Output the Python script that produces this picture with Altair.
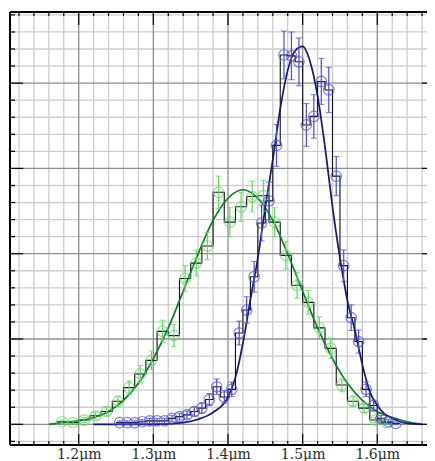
import altair as alt
import pandas as pd

# ---------------- data ----------------
# green series (bin width 0.015 um)
green_x = [1.1775, 1.1925, 1.2075, 1.2225, 1.2375, 1.2525, 1.2675, 1.2825, 1.2975, 1.3125,
           1.3275, 1.3425, 1.3575, 1.3725, 1.3875, 1.4025, 1.4175, 1.4325, 1.4475, 1.4625,
           1.4775, 1.4925, 1.5075, 1.5225, 1.5375, 1.5525, 1.5675, 1.5825, 1.5975, 1.6125]
green_y = [0.03, 0.02, 0.05, 0.10, 0.15, 0.27, 0.43, 0.59, 0.75, 1.09,
           1.04, 1.71, 1.89, 2.09, 2.72, 2.37, 2.55, 2.67, 2.68, 2.37,
           1.98, 1.63, 1.43, 1.13, 0.89, 0.46, 0.27, 0.19, 0.05, 0.02]
green_err = [0.02, 0.02, 0.03, 0.04, 0.05, 0.06, 0.08, 0.10, 0.11, 0.13,
             0.13, 0.15, 0.15, 0.16, 0.19, 0.17, 0.17, 0.18, 0.18, 0.17,
             0.16, 0.15, 0.14, 0.13, 0.12, 0.08, 0.06, 0.05, 0.03, 0.02]

# blue series (bin width 0.01 um)
blue_x = [1.255, 1.265, 1.275, 1.285, 1.295, 1.305, 1.315, 1.325, 1.335, 1.345,
          1.355, 1.365, 1.375, 1.385, 1.395, 1.405, 1.415, 1.425, 1.435, 1.445,
          1.455, 1.465, 1.475, 1.485, 1.495, 1.505, 1.515, 1.525, 1.535, 1.545,
          1.555, 1.565, 1.575, 1.585, 1.595, 1.605, 1.615, 1.625]
blue_y = [0.02, 0.02, 0.02, 0.03, 0.04, 0.04, 0.04, 0.07, 0.09, 0.11,
          0.15, 0.19, 0.29, 0.44, 0.32, 0.41, 1.07, 1.34, 1.73, 2.36,
          2.62, 3.27, 4.33, 4.32, 4.25, 3.51, 3.61, 4.02, 3.92, 2.91,
          1.86, 1.25, 0.97, 0.41, 0.22, 0.07, 0.03, 0.01]
blue_err = [0.02, 0.02, 0.02, 0.025, 0.03, 0.03, 0.03, 0.035, 0.04, 0.045,
            0.05, 0.06, 0.07, 0.09, 0.075, 0.085, 0.14, 0.155, 0.18, 0.21,
            0.22, 0.245, 0.28, 0.28, 0.28, 0.25, 0.255, 0.27, 0.265, 0.23,
            0.185, 0.15, 0.135, 0.085, 0.065, 0.035, 0.025, 0.015]

# fitted curves
green_curve_x = [1.16, 1.18, 1.20, 1.22, 1.24, 1.26, 1.28, 1.30, 1.32, 1.34, 1.36, 1.38, 1.40,
                 1.42, 1.44, 1.46, 1.48, 1.50, 1.52, 1.54, 1.56, 1.58, 1.60, 1.62, 1.64, 1.66]
green_curve_y = [0.0, 0.02, 0.04, 0.08, 0.15, 0.28, 0.48, 0.77, 1.13, 1.56, 2.00, 2.39, 2.65,
                 2.75, 2.65, 2.39, 2.00, 1.56, 1.13, 0.77, 0.48, 0.28, 0.15, 0.08, 0.03, 0.0]
blue_curve_x = [1.22, 1.30, 1.34, 1.36, 1.38, 1.40, 1.41, 1.42, 1.43, 1.44, 1.45, 1.46, 1.47,
                1.48, 1.49, 1.50, 1.51, 1.52, 1.53, 1.54, 1.55, 1.56, 1.57, 1.58, 1.59, 1.60,
                1.61, 1.62, 1.63, 1.64, 1.66]
blue_curve_y = [0.0, 0.0, 0.02, 0.06, 0.14, 0.32, 0.55, 0.95, 1.46, 1.95, 2.55, 3.10, 3.70,
                4.15, 4.38, 4.43, 4.25, 3.85, 3.25, 2.55, 1.95, 1.45, 1.10, 0.70, 0.38, 0.22,
                0.12, 0.07, 0.03, 0.01, 0.0]

# axis ticks / grid positions
x_major = [1.2, 1.3, 1.4, 1.5, 1.6]
x_minor = [1.12, 1.14, 1.16, 1.18, 1.22, 1.24, 1.26, 1.28, 1.32, 1.34, 1.36, 1.38,
           1.42, 1.44, 1.46, 1.48, 1.52, 1.54, 1.56, 1.58, 1.62, 1.64, 1.66]
y_major = [0, 1, 2, 3, 4]
y_minor = [-0.2, 0.2, 0.4, 0.6, 0.8, 1.2, 1.4, 1.6, 1.8, 2.2, 2.4, 2.6, 2.8,
           3.2, 3.4, 3.6, 3.8, 4.2, 4.4, 4.6, 4.8]

# ---------------- chart ----------------
W, H = 417, 433
xs = alt.Scale(domain=[1.10797, 1.66659], nice=False, zero=False)
ys = alt.Scale(domain=[-0.2427, 4.834], nice=False, zero=False)
xaxis = alt.Axis(values=x_major, labelExpr="format(datum.value, '.1f') + 'μm'",
                 ticks=False, grid=False, domain=False, labelFont="DejaVu Serif",
                 labelFontSize=14, labelColor="#2a2a2a", labelPadding=2, title=None,
                 labelFlush=False)


def X(f):
    return alt.X(f, type="quantitative", scale=xs, axis=xaxis)


def Y(f):
    return alt.Y(f, type="quantitative", scale=ys, axis=None)


dxmaj = pd.DataFrame({"x": x_major})
dxmin = pd.DataFrame({"x": x_minor})
dymaj = pd.DataFrame({"y": y_major})
dymin = pd.DataFrame({"y": y_minor})

layers = []
# grid
layers.append(alt.Chart(dxmin).mark_rule(color="#cdcdcd", strokeWidth=1.3).encode(x=X("x")))
layers.append(alt.Chart(dymin).mark_rule(color="#cdcdcd", strokeWidth=1.3).encode(y=Y("y")))
layers.append(alt.Chart(dxmaj).mark_rule(color="#8c8c8c", strokeWidth=1.3).encode(x=X("x")))
layers.append(alt.Chart(dymaj).mark_rule(color="#8c8c8c", strokeWidth=1.3).encode(y=Y("y")))


def step_frame(xc, yv, w):
    ex = [c - w / 2 for c in xc] + [xc[-1] + w / 2]
    ey = list(yv) + [yv[-1]]
    return pd.DataFrame({"x": ex, "y": ey})


# step histograms
for xc, yv, w in [(green_x, green_y, 0.015), (blue_x, blue_y, 0.01)]:
    layers.append(alt.Chart(step_frame(xc, yv, w)).mark_line(
        interpolate="step-after", color="#111111", strokeWidth=1.1).encode(x=X("x"), y=Y("y")))

# fitted curves
layers.append(alt.Chart(pd.DataFrame({"x": green_curve_x, "y": green_curve_y})).mark_line(
    interpolate="monotone", color="#0d7a26", strokeWidth=1.7).encode(x=X("x"), y=Y("y")))
layers.append(alt.Chart(pd.DataFrame({"x": blue_curve_x, "y": blue_curve_y})).mark_line(
    interpolate="monotone", color="#15156e", strokeWidth=1.7).encode(x=X("x"), y=Y("y")))

# error bars and points
for xc, yv, ev, col in [(green_x, green_y, green_err, "#5fd85f"),
                        (blue_x, blue_y, blue_err, "#4a4ad2")]:
    d = pd.DataFrame({"x": xc, "y": yv, "e": ev})
    d["lo"] = d["y"] - d["e"]
    d["hi"] = d["y"] + d["e"]
    layers.append(alt.Chart(d).mark_rule(color=col, strokeWidth=1.2).encode(
        x=X("x"), y=Y("lo"), y2="hi"))
    layers.append(alt.Chart(d).mark_tick(orient="horizontal", size=6, thickness=1.1, color=col).encode(
        x=X("x"), y=Y("lo")))
    layers.append(alt.Chart(d).mark_tick(orient="horizontal", size=6, thickness=1.1, color=col).encode(
        x=X("x"), y=Y("hi")))
    layers.append(alt.Chart(d).mark_point(shape="circle", filled=False, size=110,
                                          strokeWidth=1.2, color=col).encode(x=X("x"), y=Y("y")))

# frame (top, left, bottom) and inward ticks
tk = dict(color="#000000", strokeWidth=1.2)
fr = dict(color="#000000", strokeWidth=1.5)
layers.append(alt.Chart(dxmaj).mark_rule(**fr).encode(x=alt.value(0), x2=alt.value(W), y=alt.value(0)))
layers.append(alt.Chart(dxmaj).mark_rule(**fr).encode(x=alt.value(0), x2=alt.value(W), y=alt.value(H)))
layers.append(alt.Chart(dxmaj).mark_rule(**fr).encode(x=alt.value(0), y=alt.value(0), y2=alt.value(H)))
layers.append(alt.Chart(dxmin).mark_rule(**tk).encode(x=X("x"), y=alt.value(0), y2=alt.value(4)))
layers.append(alt.Chart(dxmaj).mark_rule(**tk).encode(x=X("x"), y=alt.value(0), y2=alt.value(13)))
layers.append(alt.Chart(dxmin).mark_rule(**tk).encode(x=X("x"), y=alt.value(H), y2=alt.value(H - 4)))
layers.append(alt.Chart(dxmaj).mark_rule(**tk).encode(x=X("x"), y=alt.value(H), y2=alt.value(H - 11)))
layers.append(alt.Chart(dymin).mark_rule(**tk).encode(y=Y("y"), x=alt.value(0), x2=alt.value(5)))
layers.append(alt.Chart(dymaj).mark_rule(**tk).encode(y=Y("y"), x=alt.value(0), x2=alt.value(13)))
layers.append(alt.Chart(dymaj).mark_rule(**tk).encode(y=Y("y"), x=alt.value(W), x2=alt.value(W - 5)))

chart = alt.layer(*layers).properties(
    width=W, height=H,
    autosize=alt.AutoSizeParams(type="none"),
    padding={"left": 2, "top": 4, "right": 0, "bottom": 16},
    background="white",
).configure_view(strokeWidth=0)

chart.save("out.html", embed_options={"renderer": "svg", "actions": False})
